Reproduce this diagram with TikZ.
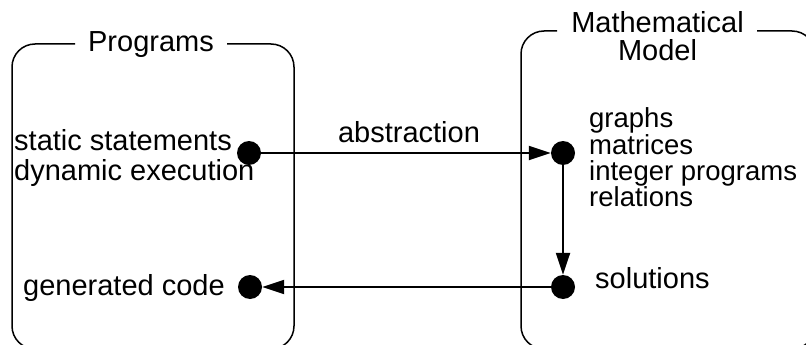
\documentclass[tikz,border=0pt]{standalone}
\usepackage{fontspec}
\setmainfont{Liberation Sans}
\usetikzlibrary{arrows.meta}
\tikzset{
  frame/.style={line width=1.5pt, rounded corners=23pt},
  dot/.style={circle, fill=black, inner sep=0pt, minimum size=24pt},
  conn/.style={line width=2.2pt, -{Triangle[length=22pt,width=14pt]}},
  lbl/.style={inner sep=0pt, font=\fontsize{29}{32}\selectfont},
  lsm/.style={inner sep=0pt, font=\fontsize{27.5}{30}\selectfont},
}
\begin{document}
\begin{tikzpicture}[x=1pt,y=-1pt]
\useasboundingbox (0,0) rectangle (806,345);
\clip (0,0) rectangle (806,345);
% left frame
\draw[frame] (75,44) -- (12,44) -- (12,349) -- (294,349) -- (294,44) -- (227,44);
\node[lbl, anchor=base] (progt) at (151,52) {Programs};
% right frame
\draw[frame] (557,31) -- (521,31) -- (521,349) -- (815,349) -- (815,31) -- (757,31);
\node[lbl, anchor=base] (matht1) at (657.5,33) {Mathematical};
\node[lbl, anchor=base] (matht2) at (657.5,61) {Model};
% dots
\node[dot] (a) at (249,153) {};
\node[dot] (b) at (250,287) {};
\node[dot] (c) at (563,153) {};
\node[dot] (d) at (563,287) {};
% texts
\node[lbl, anchor=base west] (s1) at (14,150) {static statements};
\node[lbl, anchor=base west] (s2) at (14,180) {dynamic execution};
\node[lbl, anchor=base west] (gc) at (23,295) {generated code};
\node[lbl, anchor=base] (abs) at (409,142) {abstraction};
\node[lsm, anchor=base west] (m1) at (589,127) {graphs};
\node[lsm, anchor=base west] (m2) at (589,154) {matrices};
\node[lsm, anchor=base west] (m3) at (589,180) {integer programs};
\node[lsm, anchor=base west] (m4) at (589,206) {relations};
\node[lbl, anchor=base west] (sol) at (595,288) {solutions};
% connectors
\draw[conn] (a) -- (c);
\draw[conn] (c) -- (d);
\draw[conn] (d) -- (b);
\end{tikzpicture}
\end{document}
